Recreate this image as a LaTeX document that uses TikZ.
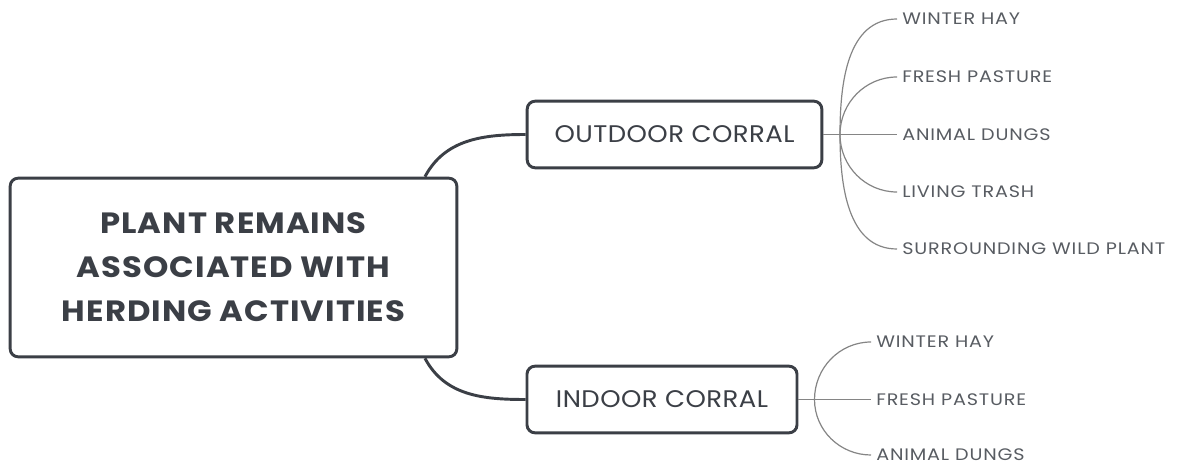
\documentclass[tikz,border=0pt]{standalone}
\usepackage{fontspec}
\setmainfont{Poppins}
\usetikzlibrary{positioning}

\definecolor{ink}{HTML}{3B3F46}
\definecolor{twig}{HTML}{858585}

\tikzset{
  rootbox/.style={draw=ink, line width=2.2pt, rounded corners=6pt, fill=white,
    minimum width=335pt, minimum height=134pt, align=center, text=ink,
    font=\bfseries\fontsize{22}{33}\selectfont\addfontfeature{FakeStretch=1.1,LetterSpace=3.5}},
  midbox/.style={draw=ink, line width=2.2pt, rounded corners=6pt, fill=white,
    minimum height=50pt, text=ink,
    font=\fontsize{18}{20}\selectfont\addfontfeature{FakeStretch=1.08,LetterSpace=2}},
  leaf/.style={anchor=west, inner xsep=3.75pt, inner ysep=0pt, text=ink!85,
    font=\fontsize{12.5}{14}\selectfont\addfontfeature{FakeStretch=1.15,LetterSpace=5}},
  trunk/.style={draw=ink, line width=2.2pt},
  twigline/.style={draw=twig, line width=0.9pt},
}

\begin{document}
\begin{tikzpicture}[x=0.75pt,y=-0.75pt]
  \useasboundingbox (0,0) rectangle (1180,466);

  % main topic and the two corrals
  \node[rootbox] (root) at (233.5,267.5) {PLANT REMAINS\\ASSOCIATED WITH\\HERDING ACTIVITIES};
  \node[midbox, minimum width=221pt] (outdoor) at (674.5,134.5) {OUTDOOR CORRAL};
  \node[midbox, minimum width=202.5pt] (indoor) at (662,399.5) {INDOOR CORRAL};

  \draw[trunk] ([xshift=-25pt]root.north east) to[out=62,in=180] (outdoor.west);
  \draw[trunk] ([xshift=-25pt]root.south east) to[out=-62,in=180] (indoor.west);

  % outdoor branches
  \coordinate (outfork) at (840,134.5);
  \draw[twigline] (outdoor.east) -- (outfork);
  \foreach \txt/\y/\a [count=\i] in {WINTER HAY/19/90, FRESH PASTURE/77/90,
      ANIMAL DUNGS/134.5/0, LIVING TRASH/192/-90, SURROUNDING WILD PLANT/249/-90} {
    \node[leaf] (out\i) at (897,\y) {\txt};
    \draw[twigline] (outfork) to[out=\a,in=180] (out\i.west);
  }

  % indoor branches
  \coordinate (infork) at (814.5,399.5);
  \draw[twigline] (indoor.east) -- (infork);
  \foreach \txt/\y/\a [count=\i] in {WINTER HAY/342/90, FRESH PASTURE/399.5/0,
      ANIMAL DUNGS/455/-90} {
    \node[leaf] (in\i) at (871,\y) {\txt};
    \draw[twigline] (infork) to[out=\a,in=180] (in\i.west);
  }
\end{tikzpicture}
\end{document}
